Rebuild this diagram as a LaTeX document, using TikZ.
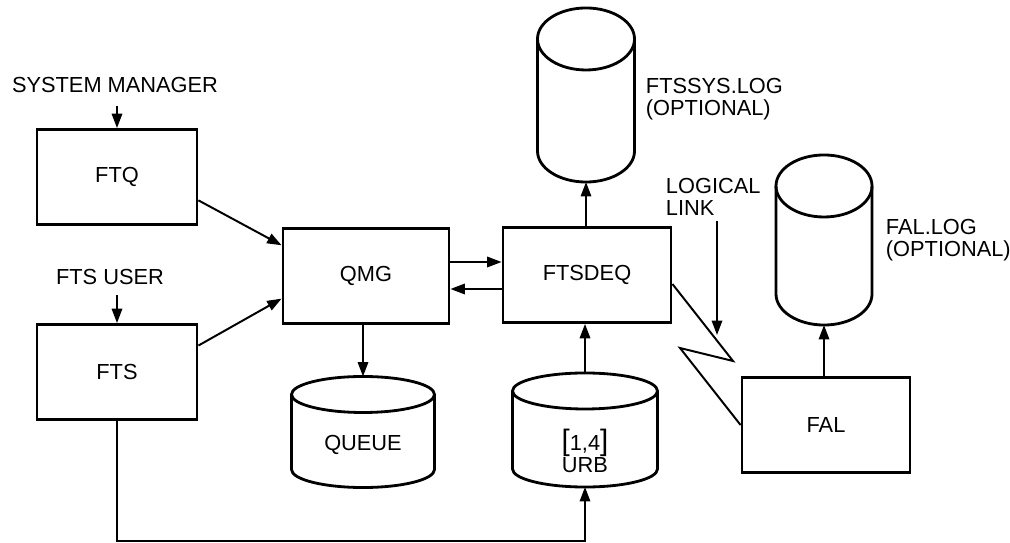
\documentclass[tikz,border=0pt]{standalone}
\usepackage{fontspec}
\setmainfont{Liberation Sans}
\usetikzlibrary{arrows.meta}

% disk drawn round an empty node: name, x radius, y radius
\newcommand{\drum}[3]{%
  \draw[line width=2pt] ([yshift=-#3]#1.north) ellipse [x radius=#2, y radius=#3];
  \draw[line width=2pt] ([yshift=-#3]#1.north west) -- ([yshift=#3]#1.south west)
    arc [start angle=180, end angle=360, x radius=#2, y radius=#3] -- ([yshift=-#3]#1.north east);
}

\begin{document}
\begin{tikzpicture}[x=0.025cm, y=-0.025cm, font=\fontsize{15.5}{16}\selectfont,
  box/.style={draw, line width=2pt, outer sep=1pt, minimum width=4.15cm, minimum height=2.375cm},
  disk/.style={inner sep=0pt, outer sep=0pt},
  arr/.style={-{Triangle[length=3.6mm,width=2.6mm]}, line width=1.4pt}]
\useasboundingbox (0,0) rectangle (1010,543);

\node (sysmgr) at (115,85) {SYSTEM MANAGER};
\node [box, minimum width=4cm] (ftq) at (117,177) {FTQ};
\node (ftsuser) at (110,277) {FTS USER};
\node [box, minimum width=4cm] (fts) at (117,372) {FTS};
\node [box] (qmg) at (366,276) {QMG};
\node [box, minimum width=4.2cm] (ftsdeq) at (587,275) {FTSDEQ};
\node [box, minimum width=4.2cm] (fal) at (826,425) {FAL};

% disks
\node [disk, minimum width=3.575cm, minimum height=2.775cm] (queue) at (363,432) {};
\drum{queue}{1.7875cm}{0.45cm}
\node (queuetxt) at (363,445) {QUEUE};
\node [disk, minimum width=3.625cm, minimum height=2.85cm] (urb) at (585,430) {};
\drum{urb}{1.8125cm}{0.45cm}
\node [align=center] (urbtxt) at (585,451)
  {{\fontsize{21}{21}\selectfont[}1,4{\fontsize{21}{21}\selectfont]}\\URB};
\node [disk, minimum width=2.425cm, minimum height=4.35cm] (ftssys) at (586,95) {};
\drum{ftssys}{1.2125cm}{0.775cm}
\node [anchor=west, align=left] (ftssyslbl) at (641,99) {FTSSYS.LOG\\(OPTIONAL)};
\node [disk, minimum width=2.4cm, minimum height=4.25cm] (fallog) at (824,240) {};
\drum{fallog}{1.2cm}{0.775cm}
\node [anchor=west, align=left] (falloglbl) at (881,240) {FAL.LOG\\(OPTIONAL)};
\node [anchor=west, align=left] (loglink) at (661,197) {LOGICAL\\LINK};

% connectors
\draw[arr, shorten <=2mm] (sysmgr.south -| ftq.north) -- (ftq.north);
\draw[arr, shorten <=1.4mm] (ftsuser.south -| fts.north) -- (fts.north);
\draw[arr] (ftq.-16) -- (qmg.160);
\draw[arr] (fts.18) -- (qmg.195);
\draw[arr] ([yshift=0.35cm]qmg.east) -- ([yshift=0.35cm]qmg.east -| ftsdeq.west);
\draw[arr] ([yshift=-0.35cm]ftsdeq.west) -- ([yshift=-0.35cm]ftsdeq.west -| qmg.east);
\draw[arr] (qmg.south -| queue.north) -- (queue.north);
\draw[arr] (urb.north) -- (urb.north |- ftsdeq.south);
\draw[arr] (ftssys.south |- ftsdeq.north) -- (ftssys.south);
\draw[arr] (fallog.south |- fal.north) -- (fallog.south);
\draw[arr] (fts.south) |- ([yshift=-1.35cm]urb.south) -- (urb.south);

% logical link
\coordinate (zz1) at (733,361);
\coordinate (zz2) at (680,348);
\draw[line width=1.4pt] ([yshift=-0.225cm]ftsdeq.east) -- (zz1) -- (zz2) -- (fal.west);
\coordinate (linktip) at (717,335);
\draw[arr] (loglink.south -| linktip) -- (linktip);
\end{tikzpicture}
\end{document}
